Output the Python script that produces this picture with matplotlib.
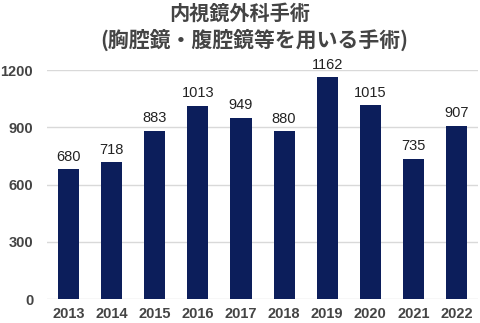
import matplotlib.pyplot as plt
import numpy as np

plt.rcParams['font.family'] = ['Liberation Sans', 'Noto Sans CJK JP', 'DejaVu Sans']

# データ
years = ['2013', '2014', '2015', '2016', '2017', '2018', '2019', '2020', '2021', '2022']
counts = [680, 718, 883, 1013, 949, 880, 1162, 1015, 735, 907]
yticks = [0, 300, 600, 900, 1200]

fig = plt.figure(figsize=(4.8, 3.23), dpi=100)
ax = fig.add_axes([0.098, 0.074, 0.898, 0.709])

x = np.arange(len(years))
bars = ax.bar(x, counts, width=0.49, color='#0c1e5b', zorder=3)

# 棒の上に数値
for xi, v in zip(x, counts):
    ax.annotate(str(v), (xi, v), xytext=(0, 4), textcoords='offset points',
                ha='center', va='bottom', fontsize=10.5, color='#222222',
                annotation_clip=False)

ax.set_xlim(-0.5, len(years) - 0.5)
ax.set_ylim(0, 1200)
ax.set_yticks(yticks)
ax.set_xticks(x)
ax.set_xticklabels(years)
ax.grid(axis='y', color='#d9d9d9', linewidth=1, zorder=0)
for s in ax.spines.values():
    s.set_visible(False)
ax.tick_params(axis='both', length=0, labelsize=10.5, colors='#444444')
ax.tick_params(axis='y', pad=10)
ax.tick_params(axis='x', pad=6)
for lab in ax.get_xticklabels() + ax.get_yticklabels():
    lab.set_fontweight('bold')

# タイトル
fig.text(0.5, 1 - 13 / 323, '内視鏡外科手術', ha='center', va='center',
         fontsize=14.5, fontweight='bold', color='#444444',
         family=['Noto Sans CJK JP', 'DejaVu Sans'])
fig.text(254 / 480, 1 - 40 / 323, '(胸腔鏡・腹腔鏡等を用いる手術)', ha='center', va='center',
         fontsize=15, fontweight='bold', color='#444444',
         family=['Noto Sans CJK JP', 'DejaVu Sans'])

fig.savefig('out.png', dpi=100)
